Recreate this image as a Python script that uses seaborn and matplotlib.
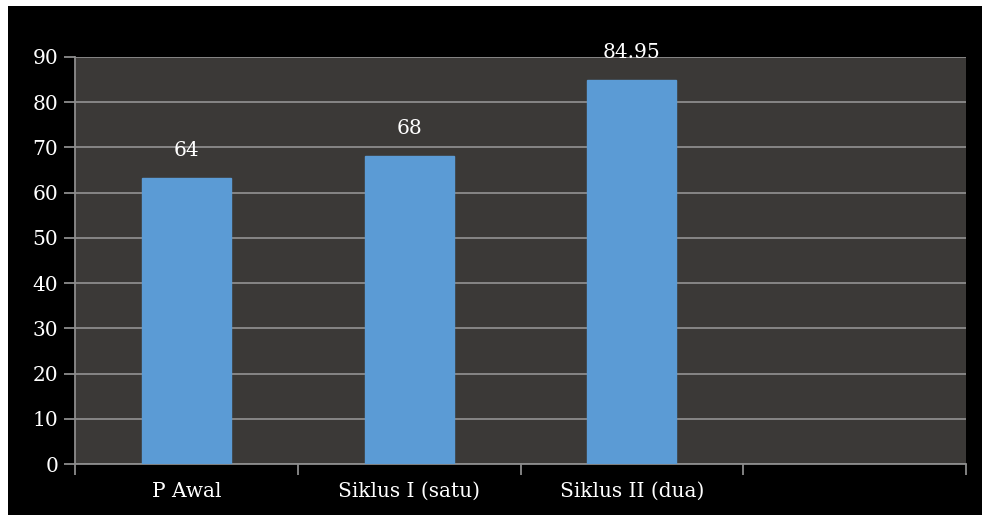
import matplotlib
matplotlib.use("Agg")
import matplotlib.pyplot as plt
import seaborn as sns
import pandas as pd
import numpy as np

categories = ["P Awal", "Siklus I (satu)", "Siklus II (dua)"]
values = [63.3, 68, 84.95]
value_labels = ["64", "68", "84.95"]
y_ticks = [0, 10, 20, 30, 40, 50, 60, 70, 80, 90]

sns.set_theme(style="dark")
plt.rcParams['font.family'] = ['DejaVu Serif']

W, H = 982, 515
FS = 14.5
fig = plt.figure(figsize=(W / 100, H / 100), dpi=100, facecolor="white")
# black panel
bg = plt.Rectangle((8 / W, 0), 1 - 8 / W, 1 - 6 / H, transform=fig.transFigure,
                   facecolor="black", edgecolor="none", zorder=-10)
fig.add_artist(bg)
ax = fig.add_axes([75 / W, 1 - 464 / H, (966 - 75) / W, (464 - 57) / H])
ax.set_zorder(1)
ax.set_facecolor("#3b3937")

df = pd.DataFrame({"cat": categories, "val": values})
order = categories + [" "]
sns.barplot(data=df, x="cat", y="val", order=order, color="#5b9bd5", width=0.4,
            saturation=1, ax=ax, zorder=3, edgecolor="#5b9bd5")

ax.set_xlim(-0.5, 3.5)
ax.set_ylim(0, 90)
ax.set_yticks(y_ticks)
ax.set_yticklabels([str(t) for t in y_ticks], color="white", fontsize=FS)
ax.yaxis.grid(True, color="#8c8c8c", linewidth=1.3, zorder=1)
ax.xaxis.grid(False)
ax.set_axisbelow(True)

ax.set_xticks(np.arange(-0.5, 4, 1.0))
ax.set_xticklabels([])
ax.set_xticks(range(len(categories)), minor=True)
ax.set_xticklabels(categories, minor=True, color="white", fontsize=FS)
ax.tick_params(axis="x", which="minor", bottom=True, length=0, pad=13)
ax.tick_params(axis="x", which="major", bottom=True, length=8, width=1.3,
               color="#8c8c8c", direction="out")
ax.tick_params(axis="y", left=True, length=8, width=1.3, color="#8c8c8c",
               direction="out", pad=4)
ax.set_xlabel("")
ax.set_ylabel("")

for s in ["top", "right"]:
    ax.spines[s].set_visible(False)
for s in ["left", "bottom"]:
    ax.spines[s].set_visible(True)
    ax.spines[s].set_color("#8c8c8c")
    ax.spines[s].set_linewidth(1.3)

for i, (v, lab) in enumerate(zip(values, value_labels)):
    ax.annotate(lab, (i, v), xytext=(0, 13), textcoords="offset points",
                ha="center", va="bottom", color="white", fontsize=FS, zorder=5,
                annotation_clip=False)

fig.savefig("out.png", dpi=100, facecolor="white")
